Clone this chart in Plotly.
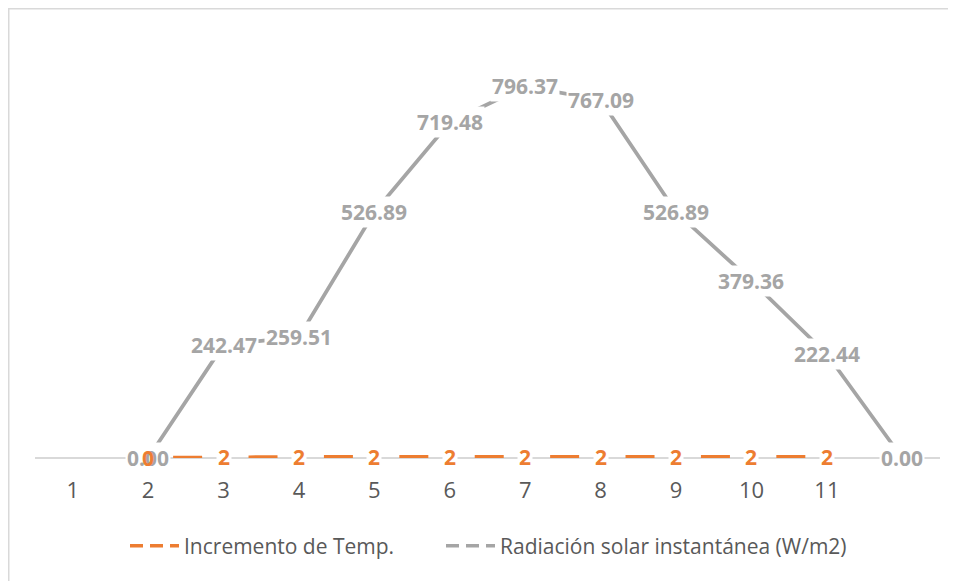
import plotly.graph_objects as go

# ---- data ----
categories = [1, 2, 3, 4, 5, 6, 7, 8, 9, 10, 11, 12]
tick_labels = ["1", "2", "3", "4", "5", "6", "7", "8", "9", "10", "11", ""]

temp_x = [2, 3, 4, 5, 6, 7, 8, 9, 10, 11]
temp_values = [0, 2, 2, 2, 2, 2, 2, 2, 2, 2]
temp_labels = ["0", "2", "2", "2", "2", "2", "2", "2", "2", "2"]

rad_x = [2, 3, 4, 5, 6, 7, 8, 9, 10, 11, 12]
rad_values = [0.00, 242.47, 259.51, 526.89, 719.48, 796.37, 767.09, 526.89, 379.36, 222.44, 0.00]

series_names = ["Incremento de Temp.", "Radiación solar instantánea (W/m2)"]

ORANGE = "#ED7D31"
GRAY = "#A5A5A5"
TEXT = "#595959"
FONT = "Open Sans"

W, H = 948, 573
ML, MR, MT, MB = 27, 16, 30, 123
PW, PH = W - ML - MR, H - MT - MB

fig = go.Figure()

fig.add_trace(go.Scatter(x=rad_x, y=rad_values, mode="lines",
                         line=dict(color=GRAY, width=3.75),
                         showlegend=False, hoverinfo="skip"))
fig.add_trace(go.Scatter(x=temp_x, y=temp_values, mode="lines",
                         line=dict(color=ORANGE, width=4, dash="0px,25px,29px,21.4px"),
                         showlegend=False, hoverinfo="skip"))

# legend-only entries (both shown dashed as in the reference legend)
fig.add_trace(go.Scatter(x=[None], y=[None], mode="lines", name=series_names[0],
                         line=dict(color=ORANGE, width=3.5, dash="13px,7px"),
                         legend="legend"))
fig.add_trace(go.Scatter(x=[None], y=[None], mode="lines", name=series_names[1],
                         line=dict(color=GRAY, width=3.5, dash="13px,7px"),
                         legend="legend2"))

annotations = []
for x, v in zip(rad_x, rad_values):
    annotations.append(dict(x=x, y=v, xref="x", yref="y", text=f"{v:.2f}",
                            showarrow=False, bgcolor="white", borderpad=1,
                            font=dict(family=FONT, size=21, color=GRAY, weight="bold")))
for x, v, t in zip(temp_x, temp_values, temp_labels):
    annotations.append(dict(x=x, y=v, xref="x", yref="y", text=t,
                            showarrow=False,
                            bgcolor="white" if t != "0" else "rgba(0,0,0,0)",
                            borderpad=1,
                            font=dict(family=FONT, size=21, color=ORANGE, weight="bold")))

legend_common = dict(orientation="h", xanchor="left", y=(MT + PH - 538) / PH, yanchor="middle",
                     font=dict(family=FONT, size=21, color=TEXT), itemwidth=49,
                     bgcolor="rgba(0,0,0,0)")

fig.update_layout(
    width=W, height=H,
    margin=dict(l=ML, r=MR, t=MT, b=MB, autoexpand=False),
    paper_bgcolor="white", plot_bgcolor="white",
    font=dict(family=FONT, size=21, color=TEXT),
    annotations=annotations,
    legend=dict(x=(117 - ML) / PW, **legend_common),
    legend2=dict(x=(433 - ML) / PW, **legend_common),
    shapes=[dict(type="rect", xref="paper", yref="paper",
                 x0=(0.75 - ML) / PW, x1=1.2, y0=-0.5, y1=1 + (MT - 0.75) / PH,
                 line=dict(color="#D9D9D9", width=1.5), layer="below")],
)
fig.update_xaxes(range=[0.5, 12.5], tickmode="array", tickvals=categories, ticktext=tick_labels,
                 showgrid=False, zeroline=False, showline=False, ticks="", layer="below traces",
                 ticklabelstandoff=17, tickfont=dict(family=FONT, size=22, color=TEXT))
fig.update_yaxes(range=[0, 900], showgrid=False, showticklabels=False, zeroline=True,
                 zerolinecolor="#D9D9D9", zerolinewidth=1.5, showline=False, ticks="",
                 layer="below traces")

fig.write_html("out.html")
